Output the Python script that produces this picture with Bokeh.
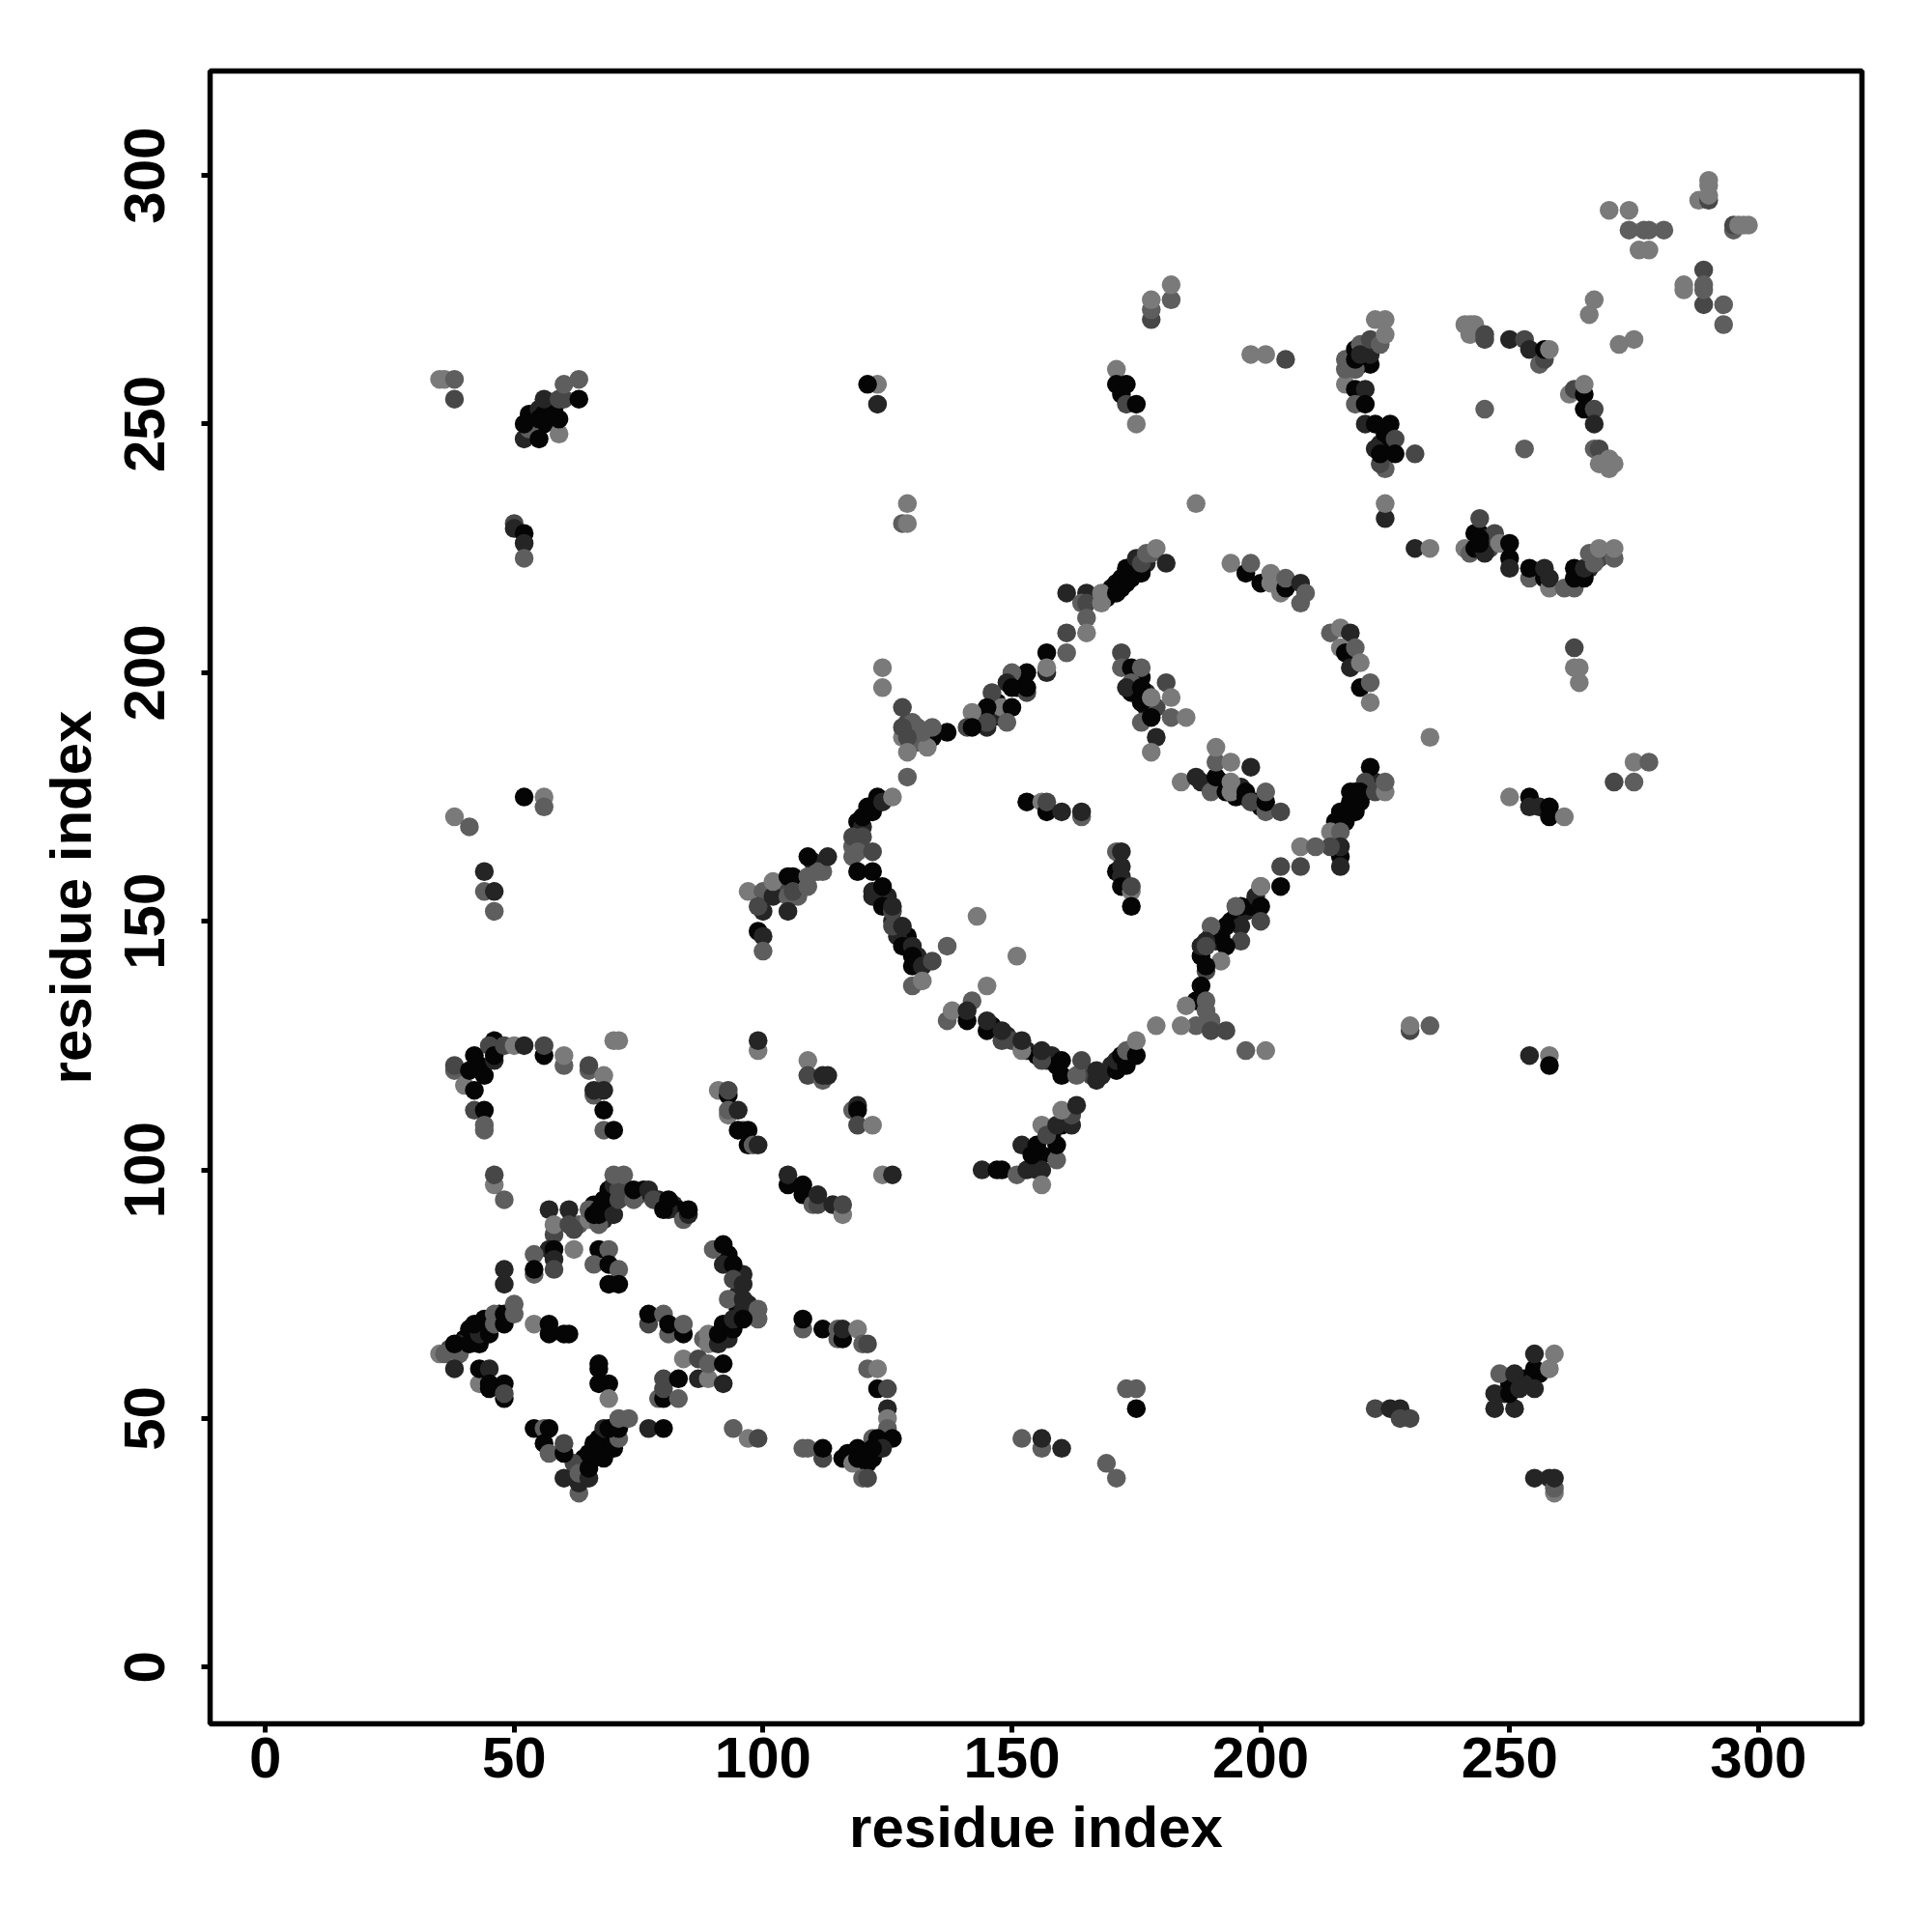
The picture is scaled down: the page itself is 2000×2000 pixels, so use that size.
from bokeh.plotting import figure
from bokeh.models import ColumnDataSource, FixedTicker
from bokeh.embed import file_html
from bokeh.resources import INLINE

GREYS = ["#050505", "#252525", "#474747", "#5e5e5e", "#7a7a7a"]
TICKS = [0, 50, 100, 150, 200, 250, 300]
X_LABEL = "residue index"
Y_LABEL = "residue index"

dense_a_x=[170,172,174,175,177,178,170,169,173,176, 119,122,120,119,118, 216,218,220,221,222,215,217,219,218,223, 190,191,194,195,197,198,192,188,188,199]
dense_a_y=[217,217,219,221,222,224,216,215,220,223, 170,173,169,166,165, 170,172,174,176,178,170,172,174,176,178, 147,146,150,151,152,153,147,143,145,155]
dense_a_g=[0,0,0,0,1,3,1,0,0,2, 0,0,1,2,3, 0,0,0,0,0,0,0,0,0,1, 0,1,0,0,1,0,0,0,1,1]

dense_b_x=[146,149,150,153,155,157,158,159,168,166,170,172,174, 125,126,129,127,131, 64,66,67,67,69,68,62,64, 40,42,44,46,47,45,39,37]
dense_b_y=[129,127,126,124,123,122,123,121,119,119,121,122,124, 155,150,147,147,143, 42,42,43,46,46,48,41,38, 66,66,68,70,71,69,65,64]
dense_b_g=[0,1,2,1,0,1,1,0,1,2,1,0,0, 1,1,0,1,1, 0,0,0,0,0,1,2,1, 0,0,0,0,0,0,1,2]

dense_c_x=[72,73,75,76,79,82,83,68,63,66, 95,95,97,93,90,92,88,96,93, 120,122,124,117, 222,219,220,221,222,226,224,225,225]
dense_c_y=[95,96,95,96,94,93,92,90,89,93, 72,75,73,68,66,67,66,79,83, 42,42,46,43, 262,261,262,264,265,246,246,245,248]
dense_c_g=[1,1,2,0,1,1,0,1,3,0, 0,1,1,0,1,0,3,1,0, 0,0,1,0, 0,1,0,0,1,0,1,0,0]

dense_d_x=[244,245,246,243,265,264,266,268, 54,56,57,58,53,55, 249,253,254,256,250, 151,152,144,146,147,143,147,148]
dense_d_y=[228,227,225,228,220,220,221,223, 250,250,254,253,252,253, 55,58,57,59,57, 197,199,191,191,192,190,194,191]
dense_d_g=[0,1,2,0,0,0,1,2, 0,0,1,0,0,1, 1,0,1,0,0, 0,0,1,0,1,0,0,1]

dense_e_x=[129,130,131,130,128,131, 174,175,177,177,179,176, 188,192,195,196,199,200, 103,110,111,107, 158,160,156,156, 171]
dense_e_y=[190,188,189,187,187,186, 196,197,193,196,193,199, 178,178,175,177,174,173, 157,162,160,155, 107,109,103,100, 160]
dense_e_g=[2,2,3,3,4,3, 0,0,1,1,2,0, 1,0,0,1,0,0, 2,1,3,3, 0,0,0,1, 0]

arc_tl_x=[38,38,40,41,42,44,42,43,46,45, 46,46,48,50,52,56,56,60,60,65, 65,68,66,66,68,68,68,70,42,44, 44,44,70,71]
arc_tl_y=[120,121,117,120,123,119,116,121,126,125, 122,123,125,125,125,123,125,121,123,120, 121,119,115,116,116,112,108,108,112,112, 109,108,126,126]
arc_tl_g=[3,2,4,0,0,0,0,0,0,2, 1,0,2,4,1,0,2,3,4,3, 2,4,3,1,1,0,3,0,2,0, 3,3,4,4]

top_mid_x=[99,99,109,109,112,112,113,118,119,119, 119,122,91,93,93,93,93,95,96,95, 97,97,98,99]
top_mid_y=[124,126,122,119,118,119,119,112,113,112, 109,109,116,115,116,111,112,112,108,108, 108,105,105,105]
top_mid_g=[4,1,4,2,3,1,1,3,1,0, 2,4,4,0,2,4,3,1,3,0, 0,0,3,1]

low_mid_x=[105,105,108,108,110,111,111,114,116,116,124,126]
low_mid_y=[97,99,95,97,93,93,95,93,91,93,99,99]
low_mid_g=[0,1,0,0,3,2,1,1,4,2,4,1]

central_x=[46,46,48,57,61,58,58,61,62,57, 58,62,58,54,54,54,58,48,48]
central_y=[97,99,94,92,92,87,89,89,88,84, 84,84,82,83,79,80,80,80,77]
central_g=[4,2,3,1,1,2,4,2,2,1, 0,4,1,3,3,0,2,1,1]

arc_top_x=[65,67,65,66,67,67,69,70,68,69, 70,71,71,70,72,74,74,77,78,81, 80,81,84,85,85]
arc_top_y=[90,89,92,91,91,92,92,91,94,96, 97,94,96,99,99,94,96,96,94,92, 92,94,90,91,92]
arc_top_g=[4,3,3,0,0,0,0,1,0,0, 1,2,2,3,3,3,0,1,2,1, 0,0,3,1,0]

cross_x=[67,69,66,69,71,69,71]
cross_y=[84,84,81,81,80,77,77]
cross_g=[0,3,3,0,3,0,0]

arc_r_x=[90,92,92,94,94,96,93,96,96,99, 99,89,89,91,93,91,92,94,94,96]
arc_r_y=[84,85,81,81,78,77,74,74,72,72, 70,67,65,65,66,67,69,68,70,70]
arc_r_g=[3,0,1,0,2,1,3,1,1,3, 3,4,4,1,1,0,0,0,1,0]

arm_l_x=[35,36,39,38,38,41,43,41,43,45, 42,44,46,46,48,48,50,50,54,57, 57,60,61]
arm_l_y=[63,63,63,60,65,65,65,68,67,67, 69,70,69,71,69,71,71,73,69,69, 67,67,67]
arm_l_g=[4,3,3,1,0,0,0,0,1,0, 0,0,3,3,0,0,3,3,4,0, 0,0,0]

mid7_x=[77,77,80,81,81,84,84]
mid7_y=[69,71,71,67,69,67,69]
mid7_g=[2,0,3,3,0,0,3]

hook_x=[108,108,112,115,115,116,116,119,120,121, 121,123,123,125,125,125,125,122,123,126, 124,122,119,116,118,119,121,120,121,108, 109,112,112]
hook_y=[68,70,68,68,66,66,68,68,65,65, 60,60,56,56,52,50,48,46,46,46, 44,44,44,42,41,42,41,38,38,44, 44,42,44]
hook_g=[3,0,0,3,3,0,1,4,3,2, 3,4,0,2,1,4,3,3,0,0, 1,0,0,0,4,0,0,3,2,3, 3,2,0]

diamond_x=[43,43,45,45,45,48,48,48,54,56, 57,56,57,60,60,60,63,63,63,65, 65,65,66,68,70,71,69,71,71,73, 77,80,94,97,99]
diamond_y=[57,60,60,57,56,54,57,55,48,48, 48,45,43,43,45,38,35,37,39,38, 40,43,45,42,44,46,48,48,50,50, 48,48,48,46,46]
diamond_g=[4,0,1,0,0,0,0,2,0,3, 0,0,3,0,2,1,3,1,3,1, 0,0,0,0,0,3,0,0,3,3, 1,0,3,4,2]

inner_l_x=[67,67,67,69,69,79,80,80,80,83, 83,84,87,87,89,89,92,92]
inner_l_y=[61,60,57,57,54,54,54,56,58,54, 58,62,62,58,58,61,61,57]
inner_l_g=[0,0,0,0,4,3,0,2,2,3, 0,4,2,1,4,3,0,1]

branch_x=[161,165,164,165,165,165,168,168,171,171, 172,173,173,174,175,176,176,177,179,181]
branch_y=[216,216,214,214,211,208,214,216,218,216, 219,218,221,220,223,220,222,224,225,222]
branch_g=[1,1,3,2,3,4,4,4,0,0, 0,0,0,0,1,0,2,3,4,1]

diag_x=[161,161,157,157,157,153,153,153,150,149, 150,146,148,150,145,142,149,145,145,141, 142]
diag_y=[208,204,204,200,201,196,197,200,200,198, 197,196,193,193,193,192,190,189,190,189, 189]
diag_g=[2,3,0,1,4,2,0,0,3,1, 0,2,4,0,0,4,3,1,2,2, 0]

junction_x=[137,134,134,133,132,130,129,128,128,129, 129,124,124]
junction_y=[188,187,189,185,188,190,187,189,193,184, 179,201,197]
junction_g=[0,0,3,4,3,3,2,2,2,4, 3,4,4]

left_arc_x=[120,121,122,123,124,126,118,120,118,119, 122,119,122,122,122,124,124,126,126,126, 128,128,130,130,130,132,134,137,130,132]
left_arc_y=[171,173,172,175,174,175,167,167,163,164, 164,160,160,155,156,157,153,152,153,149, 149,145,145,143,141,141,142,145,137,138]
left_arc_g=[0,0,0,0,1,4,2,2,3,3, 2,0,0,1,1,0,0,2,1,2, 1,0,1,0,0,1,2,3,3,4]

bottom_arc_x=[143,151,145,142,137,138,141,141,145,145, 148,148,152,152,156,156,160,160,163,164, 167,167,171,171,172,173,173,175,175]
bottom_arc_y=[151,143,137,134,130,132,130,132,128,130, 126,128,124,126,122,124,122,119,119,122, 118,120,120,122,123,121,124,123,126]
bottom_arc_g=[4,4,4,3,3,4,0,1,0,1, 2,1,4,1,2,1,0,0,3,2, 1,1,0,1,0,0,3,0,4]

right_arc_x=[222,221,220,219,218,219,216,217,223,225, 225,214,216,216,216,214,208,211,216,204, 208,204,200,200,196,195,200,200,196,193, 190,196,193,189,189,192,189,189,188,187, 189,185,189,190,187,190,193,184,179,197, 201]
right_arc_y=[181,178,176,176,174,172,172,170,176,176, 178,168,168,163,165,165,165,165,161,161, 161,157,157,157,153,153,153,150,149,149, 149,146,145,146,145,142,140,141,137,134, 134,133,132,130,129,128,128,129,129,124, 124]
right_arc_g=[0,2,0,0,0,0,0,0,2,4, 3,4,3,0,1,2,4,3,1,2, 2,0,1,4,0,3,0,2,1,0, 3,2,0,1,2,4,2,0,0,0, 3,4,3,3,3,2,2,4,4,3, 4]

tri_x=[172,172,174,176,174,173,176,176,176,181, 178,182,176,178,182,185,179,178]
tri_y=[204,201,201,201,198,197,197,195,194,198, 195,195,190,191,191,191,187,184]
tri_g=[2,3,0,3,3,1,0,0,0,2, 4,4,3,0,3,4,1,4]

second_x=[184,187,190,191,191,191,198,193,194,194, 194,197,197,198,201,201,201,204]
second_y=[178,179,176,179,182,185,181,176,176,178, 182,176,175,174,172,174,176,172]
second_g=[4,1,3,0,3,4,1,0,4,4, 4,0,0,2,3,0,3,2]

center_x=[153,156,157,157,160,164,164,171,172,172, 172,172,174,174,174]
center_y=[174,174,172,174,172,171,172,164,164,161, 159,157,156,157,153]
center_g=[0,4,0,2,1,3,1,3,1,1, 1,0,4,2,0]

top_arc_x=[194,197,198,200,202,202,204,205,205,208, 208,209,214,216,218,216,217,219,218,220, 220,222,222]
top_arc_y=[222,220,222,218,220,218,216,217,219,214, 218,216,208,209,208,205,204,205,201,202, 197,198,194]
top_arc_g=[4,0,3,0,4,4,4,0,3,3, 1,3,3,4,1,4,0,3,1,4, 0,3,4]

corner_x=[270,274,274,277,278,281,276,278,288,290, 290,290,290,295,295,296,297,298,289,289, 289,289,285,285,293,293,267,266,272,275]
corner_y=[293,293,289,289,289,289,285,285,295,295, 296,298,299,289,290,290,290,290,281,274, 277,278,277,278,274,270,275,272,266,267]
corner_g=[4,4,3,3,3,3,4,4,4,2, 4,4,4,3,2,4,4,4,2,2, 3,3,4,4,3,3,4,4,4,4]

ur_arc_x=[217,217,217,219,219,219,220,220,222,222, 224,223,225,225,219,221,219,221,221,223, 226,226,227,225,224,223,224,227,231,225, 225]
ur_arc_y=[258,261,263,261,265,263,266,264,264,267, 266,271,271,268,257,257,254,254,250,250, 250,246,247,241,242,245,244,244,244,231, 234]
ur_arc_g=[4,3,3,3,0,0,3,1,1,2, 3,4,4,4,0,1,3,0,1,0, 0,0,2,3,2,1,0,0,2,1, 4]

ur_low_x=[231,234,241,242,244,247,244,243,245,244, 248,250,250,250,254,254,257,257,258,258, 261,263,263,265,263,265,267,266,268,271, 271]
ur_low_y=[225,225,225,224,231,228,227,225,224,226, 226,226,223,221,219,221,219,221,217,219, 217,217,219,219,221,221,222,224,225,223, 225]
ur_low_g=[1,4,4,3,2,2,0,0,1,0, 4,0,0,1,3,0,0,1,4,1, 3,3,0,0,0,1,3,3,4,3, 4]

ur_mid_x=[241,242,242,243,245,245,250,253,254,256, 257,257,258,245,253,262,263,265,265,265, 267,267,267,268,268,270,270,271]
ur_mid_y=[270,268,270,270,267,268,267,267,265,262, 263,265,265,253,245,256,257,256,258,253, 253,250,245,245,242,241,243,242]
ur_mid_g=[4,4,4,4,2,2,1,2,1,3, 2,0,4,3,3,4,2,0,4,0, 2,1,3,2,4,4,4,4]

ul_x=[35,36,38,38,52,53,55,52,55,56, 56,59,59,59,60,60,63,63]
ul_y=[259,259,259,255,247,249,247,250,251,252, 255,248,251,255,255,258,255,259]
ul_g=[4,4,3,2,1,3,0,0,0,0, 1,4,0,2,2,3,0,3]

up_iso_x=[50,50,52,52,52,123,121,123,129,128, 129,171,171,173,172,173,175,175,178,178, 178,182,182,198,201,205,187]
up_iso_y=[230,229,228,226,223,258,258,254,234,230, 230,261,258,258,256,254,254,250,271,273, 275,275,278,264,264,263,234]
up_iso_g=[2,1,0,1,3,4,0,1,4,3, 4,4,0,0,0,2,0,4,2,3, 4,3,4,4,4,2,4]

side_iso_x=[234,250,254,254,256,258,258,261,263,263, 264,264,271,275,275,278,38,41,52,56, 56,44,44,46,46]
side_iso_y=[187,175,175,173,173,173,171,171,205,201, 201,198,178,182,178,182,171,169,175,175, 173,160,156,156,152]
side_iso_g=[4,4,0,1,1,0,0,4,2,4, 4,4,2,4,3,3,4,3,0,4, 3,1,3,1,3]

arm_mid_x=[97,100,100,99,99,100,100,102,102,105, 106,105,105,106,109,109,109,112,113]
arm_mid_y=[156,156,152,153,148,147,144,155,158,159, 159,155,152,156,157,159,163,160,163]
arm_mid_g=[4,3,1,2,0,1,3,1,4,0, 0,3,1,2,3,3,0,3,1]

arm_low_x=[144,147,148,151,153,155,156,152,154,155, 159,159,156,157,159,162,162,160,163]
arm_low_y=[100,100,100,99,100,100,97,105,103,105, 102,105,109,107,109,109,111,112,113]
arm_low_g=[1,0,0,3,1,1,4,1,0,0, 3,0,4,2,1,1,2,4,1]

lr_x=[254,258,258,230,230,234,247,247,248,251, 250,251,252,255,255,255,258,259,255,258, 259,259,259,223,226,228,228,230,173,175, 175,152,156,156,160,169,171]
lr_y=[123,123,121,128,129,129,52,55,59,52, 55,59,56,56,60,63,60,63,38,38, 35,36,38,52,52,52,50,50,56,56, 52,46,44,46,44,41,38]
lr_g=[1,4,0,2,4,3,1,1,3,1, 0,1,1,1,0,1,4,4,1,1, 4,3,1,2,1,1,2,2,3,3, 0,3,3,1,1,3,3]

xs = (dense_a_x+dense_b_x+dense_c_x+dense_d_x+dense_e_x
      +arc_tl_x+top_mid_x+low_mid_x+central_x+arc_top_x+cross_x+arc_r_x+arm_l_x+mid7_x+hook_x+diamond_x+inner_l_x
      +branch_x+diag_x+junction_x+left_arc_x+bottom_arc_x+right_arc_x+tri_x+second_x+center_x+top_arc_x
      +corner_x+ur_arc_x+ur_low_x+ur_mid_x+ul_x+up_iso_x+side_iso_x+arm_mid_x+arm_low_x+lr_x)
ys = (dense_a_y+dense_b_y+dense_c_y+dense_d_y+dense_e_y
      +arc_tl_y+top_mid_y+low_mid_y+central_y+arc_top_y+cross_y+arc_r_y+arm_l_y+mid7_y+hook_y+diamond_y+inner_l_y
      +branch_y+diag_y+junction_y+left_arc_y+bottom_arc_y+right_arc_y+tri_y+second_y+center_y+top_arc_y
      +corner_y+ur_arc_y+ur_low_y+ur_mid_y+ul_y+up_iso_y+side_iso_y+arm_mid_y+arm_low_y+lr_y)
gs = (dense_a_g+dense_b_g+dense_c_g+dense_d_g+dense_e_g
      +arc_tl_g+top_mid_g+low_mid_g+central_g+arc_top_g+cross_g+arc_r_g+arm_l_g+mid7_g+hook_g+diamond_g+inner_l_g
      +branch_g+diag_g+junction_g+left_arc_g+bottom_arc_g+right_arc_g+tri_g+second_g+center_g+top_arc_g
      +corner_g+ur_arc_g+ur_low_g+ur_mid_g+ul_g+up_iso_g+side_iso_g+arm_mid_g+arm_low_g+lr_g)

source = ColumnDataSource(dict(x=xs, y=ys, color=[GREYS[g] for g in gs]))

p = figure(frame_width=1710, frame_height=1711, x_range=(-11.1, 320.8), y_range=(-11.4, 321),
           output_backend="svg", toolbar_location=None, min_border_left=217, min_border_top=73,
           min_border_right=50, min_border_bottom=140, background_fill_color="white")
p.grid.visible = False
p.outline_line_color = "black"
p.outline_line_width = 5.5
p.scatter("x", "y", source=source, size=19.5, color="color", line_color=None)

for ax, label in ((p.xaxis, X_LABEL), (p.yaxis, Y_LABEL)):
    ax.axis_label = label
    ax.ticker = FixedTicker(ticks=TICKS)
    ax.minor_tick_line_color = None
    ax.axis_line_color = None
    ax.major_tick_line_color = "black"
    ax.major_tick_line_width = 5
    ax.major_tick_in = 0
    ax.major_tick_out = 9
    ax.major_label_text_font = "Liberation Sans"
    ax.major_label_text_font_style = "bold"
    ax.major_label_text_font_size = "60px"
    ax.major_label_text_color = "black"
    ax.axis_label_text_font = "Liberation Sans"
    ax.axis_label_text_font_style = "bold"
    ax.axis_label_text_font_size = "60px"
    ax.axis_label_text_color = "black"
p.xaxis.major_label_standoff = 5
p.xaxis.axis_label_standoff = 15
p.yaxis.major_label_standoff = 38
p.yaxis.axis_label_standoff = 20
p.yaxis.major_label_orientation = "vertical"

open("out.html", "w").write(file_html(p, INLINE))
